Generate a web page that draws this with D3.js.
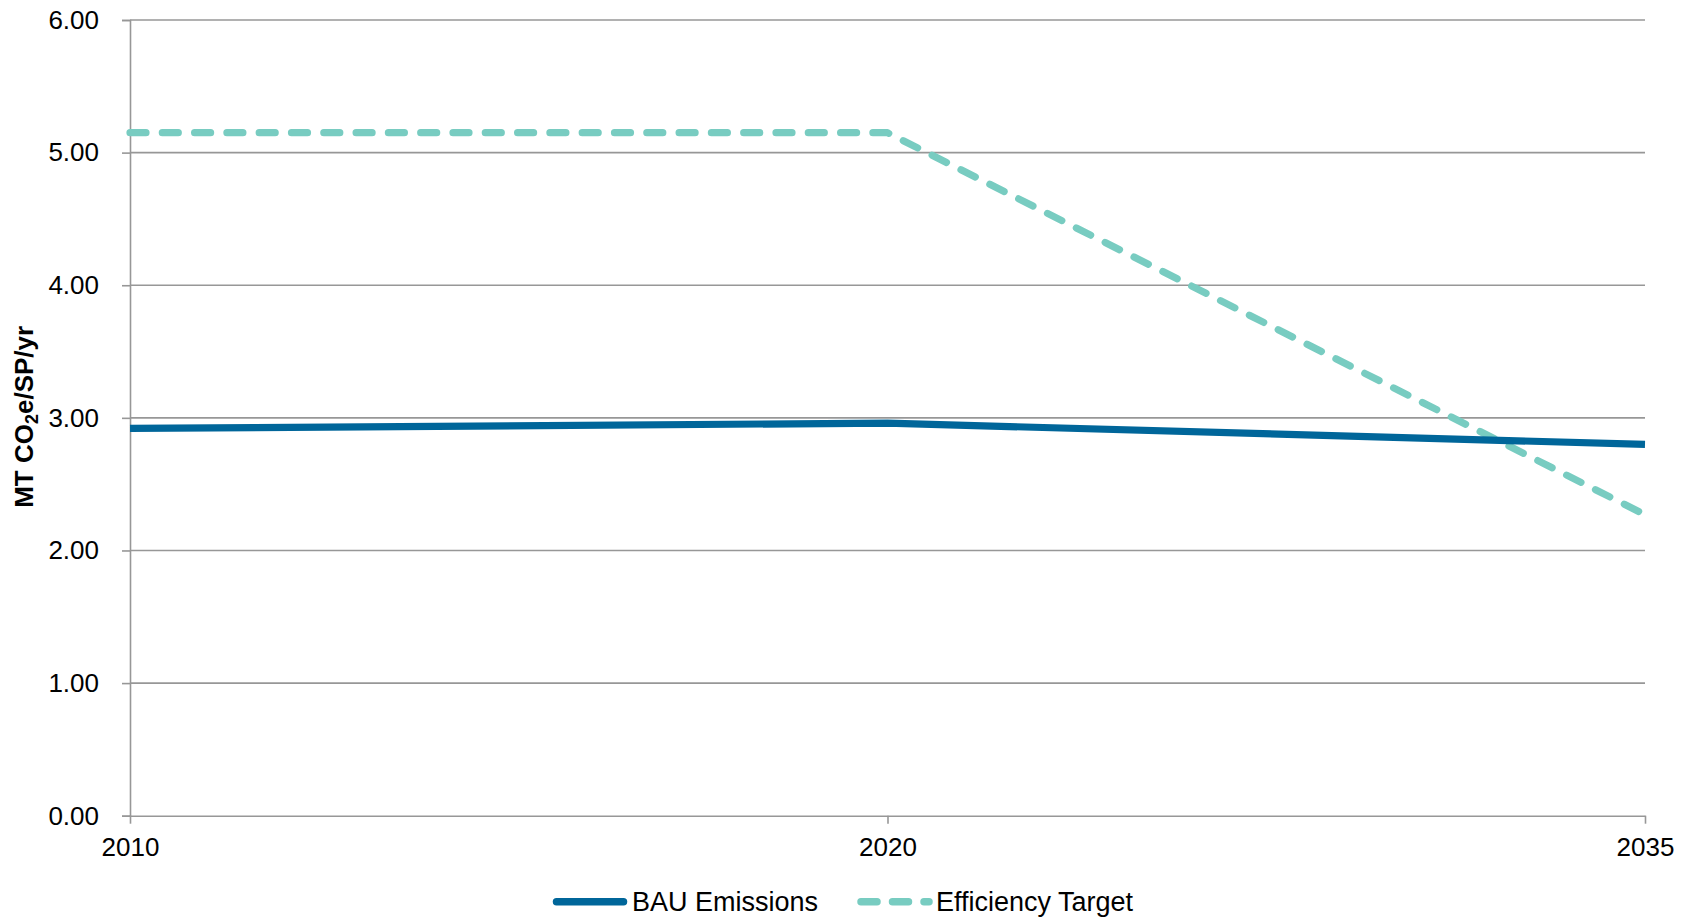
<!DOCTYPE html>
<html>
<head>
<meta charset="utf-8">
<script src="https://cdn.jsdelivr.net/npm/d3@7"></script>
<style>
  html, body { margin: 0; padding: 0; background: #fff; }
  svg { display: block; font-family: "Liberation Sans", Arial, sans-serif; }
</style>
</head>
<body>
<svg id="chart" width="1690" height="917"></svg>
<script>
// ---- data ----
const categories = ["2010", "2020", "2035"];
const bauValues = [2.92, 2.96, 2.80];
const targetValues = [5.15, 5.15, 2.27];
const yTicks = [0, 1, 2, 3, 4, 5, 6];
const seriesNames = ["BAU Emissions", "Efficiency Target"];
const yTitle = { main: "MT CO", sub: "2", rest: "e/SP/yr" };

// ---- layout ----
const W = 1690, H = 917;
const plot = { left: 130, right: 1645, top: 20, bottom: 815.7 };
const gridColor = "#979797";
const bauColor = "#00669A";
const targetColor = "#78CCC1";

const svg = d3.select("#chart");

const x = d3.scalePoint().domain(categories).range([plot.left, plot.right]);
const y = d3.scaleLinear().domain([0, 6]).range([plot.bottom, plot.top]);

// gridlines
svg.append("g")
  .selectAll("line")
  .data(yTicks.filter(d => d > 0))
  .join("line")
  .attr("x1", plot.left).attr("x2", plot.right)
  .attr("y1", d => y(d)).attr("y2", d => y(d))
  .attr("stroke", gridColor).attr("stroke-width", 1.6);

// y axis
const yAxis = svg.append("g")
  .attr("transform", `translate(${plot.left},0)`)
  .call(d3.axisLeft(y).tickValues(yTicks).tickFormat(d3.format(".2f")).tickSize(8).tickPadding(23));
yAxis.select(".domain").attr("stroke", gridColor).attr("stroke-width", 1.6);
yAxis.selectAll(".tick line").attr("stroke", gridColor).attr("stroke-width", 1.6);
yAxis.selectAll("text").attr("font-size", 26).attr("fill", "#000")
  .attr("font-family", "'Liberation Sans', Arial, sans-serif");

// x axis
const xAxis = svg.append("g")
  .attr("transform", `translate(0,${plot.bottom})`)
  .call(d3.axisBottom(x).tickSize(8).tickPadding(14).tickSizeOuter(0));
xAxis.select(".domain").attr("stroke", gridColor).attr("stroke-width", 1.6);
xAxis.selectAll(".tick line").attr("stroke", gridColor).attr("stroke-width", 1.6);
xAxis.selectAll("text").attr("font-size", 26).attr("fill", "#000")
  .attr("font-family", "'Liberation Sans', Arial, sans-serif");

// lines
const line = d3.line().x((d, i) => x(categories[i])).y(d => y(d));

svg.append("path")
  .datum(targetValues)
  .attr("d", line)
  .attr("fill", "none")
  .attr("stroke", targetColor)
  .attr("stroke-width", 7.2)
  .attr("stroke-linecap", "round")
  .attr("stroke-linejoin", "round")
  .attr("stroke-dasharray", "16 16.3");

svg.append("path")
  .datum(bauValues)
  .attr("d", line)
  .attr("fill", "none")
  .attr("stroke", bauColor)
  .attr("stroke-width", 7.2)
  .attr("stroke-linejoin", "round");

// y title
const yt = svg.append("text")
  .attr("transform", `translate(33,${y(3) - 1}) rotate(-90)`)
  .attr("text-anchor", "middle")
  .attr("font-size", 26)
  .attr("font-weight", "bold")
  .attr("fill", "#000");
yt.append("tspan").text(yTitle.main);
yt.append("tspan").attr("font-size", 18).attr("dy", 5).text(yTitle.sub);
yt.append("tspan").attr("dy", -5).text(yTitle.rest);

// legend
const legendY = 901.7;
const legend = [
  { name: seriesNames[0], color: bauColor, x1: 556.5, x2: 623.5, dash: null, tx: 632 },
  { name: seriesNames[1], color: targetColor, x1: 861, x2: 929, dash: "16 15.5", tx: 936 }
];
const lg = svg.append("g");
legend.forEach(l => {
  lg.append("line")
    .attr("x1", l.x1).attr("x2", l.x2)
    .attr("y1", legendY).attr("y2", legendY)
    .attr("stroke", l.color).attr("stroke-width", 7.5)
    .attr("stroke-linecap", "round")
    .attr("stroke-dasharray", l.dash);
  lg.append("text")
    .attr("x", l.tx).attr("y", legendY)
    .attr("dy", "0.36em")
    .attr("font-size", 27)
    .attr("fill", "#000")
    .text(l.name);
});
</script>
</body>
</html>
